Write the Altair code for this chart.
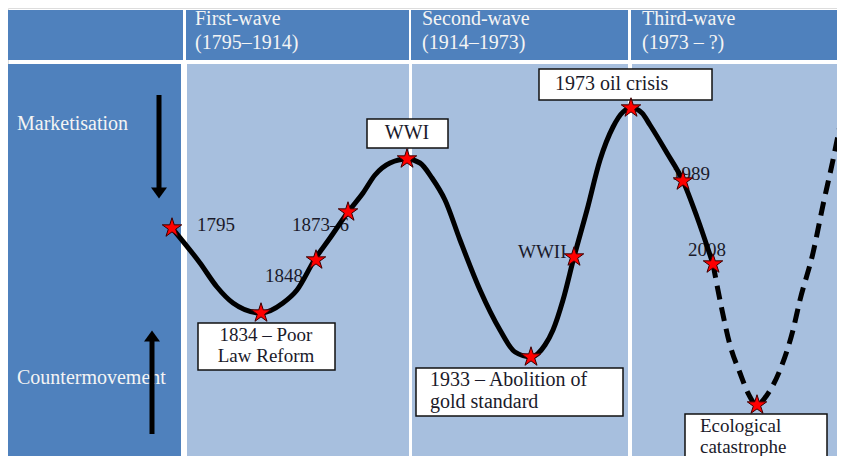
import altair as alt
import pandas as pd

# ---- data (diagram units = pixels of the original) ----
curve_x = [172, 200, 217, 233, 261, 283, 297, 315, 330, 348, 363, 375, 390, 407, 420, 432, 445, 460, 480, 500,
           515, 531, 545, 553, 563, 574, 587, 600, 613, 623, 632, 642, 650, 667, 683, 697, 713]
curve_y = [228, 263, 287, 303, 313, 303, 290, 259, 238, 212, 193, 175, 163, 159, 163, 178, 200, 240, 290, 330,
           352, 357, 345, 330, 300, 257, 210, 160, 127, 112, 108, 113, 125, 153, 181, 217, 264]
future_x = [713, 722, 730, 740, 748, 757, 767, 780, 793, 800, 813, 823, 833, 845]
future_y = [264, 310, 345, 373, 393, 405, 395, 370, 330, 300, 253, 205, 160, 100]

event_names = ["1795", "1834", "1848", "1873–6", "WWI", "1933", "WWII", "1973", "1989", "2008", "Ecological"]
event_x = [172, 261, 316, 348, 407, 531, 574, 631, 683, 713, 757]
event_y = [228, 313, 260, 212, 159, 357, 257, 108, 181, 264, 405]

plain_labels = ["1795", "1873–6", "1848", "WWII", "1989", "2008"]
plain_x = [197, 292, 265, 518, 672, 688]
plain_y = [225, 225, 276, 252, 174, 250]

header_titles = ["First-wave", "(1795–1914)", "Second-wave", "(1914–1973)", "Third-wave", "(1973 – ?)"]
header_x = [195, 195, 422, 422, 642, 642]
header_y = [19, 43, 19, 43, 19, 43]

side_labels = ["Marketisation", "Countermovement"]
side_x = [17, 17]
side_y = [124, 378]

# layout of table cells
cell_x = [7, 186, 411, 631, 7, 187, 412, 632]
cell_x2 = [183, 409, 628, 845, 181, 409, 628, 845]
cell_y = [10, 10, 10, 10, 64, 64, 64, 64]
cell_y2 = [60, 60, 60, 60, 464, 464, 464, 464]
cell_fill = ["#4F81BD"] * 5 + ["#A7BFDE"] * 3

# callout boxes
box_x = [367, 539, 198, 416, 685]
box_x2 = [448, 712, 335, 623, 827]
box_y = [119, 69, 323, 368, 414]
box_y2 = [148, 100, 370, 416, 458]

boxc_text = ["WWI", "1834 – Poor", "Law Reform"]
boxc_x = [407, 266, 266]
boxc_y = [133, 335, 356]
boxc_size = [20, 19, 19]
boxl_text = ["1973 oil crisis", "1933 – Abolition of", "gold standard", "Ecological", "catastrophe"]
boxl_x = [555, 430, 430, 700, 700]
boxl_y = [84, 380, 402, 426, 447]
boxl_size = [20, 20, 20, 19, 19]

# arrows in the side column
arrow_x = [159, 152]
arrow_y = [95, 434]
arrow_y2 = [188, 340]
head_x = [159, 152]
head_y = [193, 336]

XS = alt.Scale(domain=[8, 837], nice=False, zero=False)
YS = alt.Scale(domain=[8, 456], nice=False, zero=False, reverse=True)
FONT = "Liberation Serif"

def X(f="x"):
    return alt.X(f"{f}:Q", scale=XS, axis=None)

def Y(f="y"):
    return alt.Y(f"{f}:Q", scale=YS, axis=None)

cells = pd.DataFrame({"x": cell_x, "x2": cell_x2, "y": cell_y, "y2": cell_y2, "fill": cell_fill})
cell_layer = alt.Chart(cells).mark_rect().encode(
    x=X(), x2="x2:Q", y=Y(), y2="y2:Q", fill=alt.Fill("fill:N", scale=None))

hdr = pd.DataFrame({"t": header_titles, "x": header_x, "y": header_y})
hdr_layer = alt.Chart(hdr).mark_text(align="left", baseline="middle", font=FONT, fontSize=20,
                                     color="#F4F4F4").encode(x=X(), y=Y(), text="t:N")

side = pd.DataFrame({"t": side_labels, "x": side_x, "y": side_y})
side_layer = alt.Chart(side).mark_text(align="left", baseline="middle", font=FONT, fontSize=20,
                                       color="#F4F4F4").encode(x=X(), y=Y(), text="t:N")

arr = pd.DataFrame({"x": arrow_x, "y": arrow_y, "y2": arrow_y2})
arr_layer = alt.Chart(arr).mark_rule(strokeWidth=5, color="black").encode(x=X(), y=Y(), y2="y2:Q")
heads = pd.DataFrame({"x": head_x, "y": head_y, "dir": ["down", "up"]})
head_down = alt.Chart(heads[heads.dir == "down"]).mark_point(
    shape="M-1,-0.7L1,-0.7L0,0.7Z", size=256, filled=True, color="black", opacity=1).encode(x=X(), y=Y())
head_up = alt.Chart(heads[heads.dir == "up"]).mark_point(
    shape="M-1,0.7L1,0.7L0,-0.7Z", size=256, filled=True, color="black", opacity=1).encode(x=X(), y=Y())

plain = pd.DataFrame({"t": plain_labels, "x": plain_x, "y": plain_y})
plain_layer = alt.Chart(plain).mark_text(align="left", baseline="middle", font=FONT, fontSize=19,
                                         color="#1a1a2a").encode(x=X(), y=Y(), text="t:N")

curve = pd.DataFrame({"x": curve_x, "y": curve_y})
curve_layer = alt.Chart(curve).mark_line(interpolate="monotone", strokeWidth=5, color="black").encode(
    x=X(), y=Y(), order="x:Q")
future = pd.DataFrame({"x": future_x, "y": future_y})
future_layer = alt.Chart(future).mark_line(interpolate="monotone", strokeWidth=5, color="black",
                                           strokeDash=[14, 8]).encode(x=X(), y=Y(), order="x:Q")

boxes = pd.DataFrame({"x": box_x, "x2": box_x2, "y": box_y, "y2": box_y2})
box_layer = alt.Chart(boxes).mark_rect(fill="white", stroke="#111111", strokeWidth=1.5).encode(
    x=X(), x2="x2:Q", y=Y(), y2="y2:Q")

bc = pd.DataFrame({"t": boxc_text, "x": boxc_x, "y": boxc_y, "s": boxc_size})
bc_layer = alt.Chart(bc).mark_text(align="center", baseline="middle", font=FONT,
                                   color="#1a1a2a").encode(
    x=X(), y=Y(), text="t:N", size=alt.Size("s:Q", scale=None))
bl = pd.DataFrame({"t": boxl_text, "x": boxl_x, "y": boxl_y, "s": boxl_size})
bl_layer = alt.Chart(bl).mark_text(align="left", baseline="middle", font=FONT,
                                   color="#1a1a2a").encode(
    x=X(), y=Y(), text="t:N", size=alt.Size("s:Q", scale=None))

STAR = ("M0,-1L0.2234,-0.3074L0.9511,-0.309L0.3614,0.1174L0.5878,0.809L0,0.38L-0.5878,0.809"
        "L-0.3614,0.1174L-0.9511,-0.309L-0.2234,-0.3074Z")
ev = pd.DataFrame({"name": event_names, "x": event_x, "y": event_y})
star_layer = alt.Chart(ev).mark_point(shape=STAR, size=420, filled=True, fill="#FF0000", stroke="#3a0000",
                                      strokeWidth=1, opacity=1).encode(x=X(), y=Y())

chart = alt.layer(
    cell_layer, hdr_layer, side_layer, arr_layer, head_down, head_up, plain_layer,
    curve_layer, future_layer, box_layer, bc_layer, bl_layer, star_layer
).properties(
    width=829, height=448, padding=0, autosize=alt.AutoSizeParams(type="none")
).configure_view(stroke=None).configure(background="white")

chart.save("out.html", embed_options={"renderer": "svg", "actions": False})
